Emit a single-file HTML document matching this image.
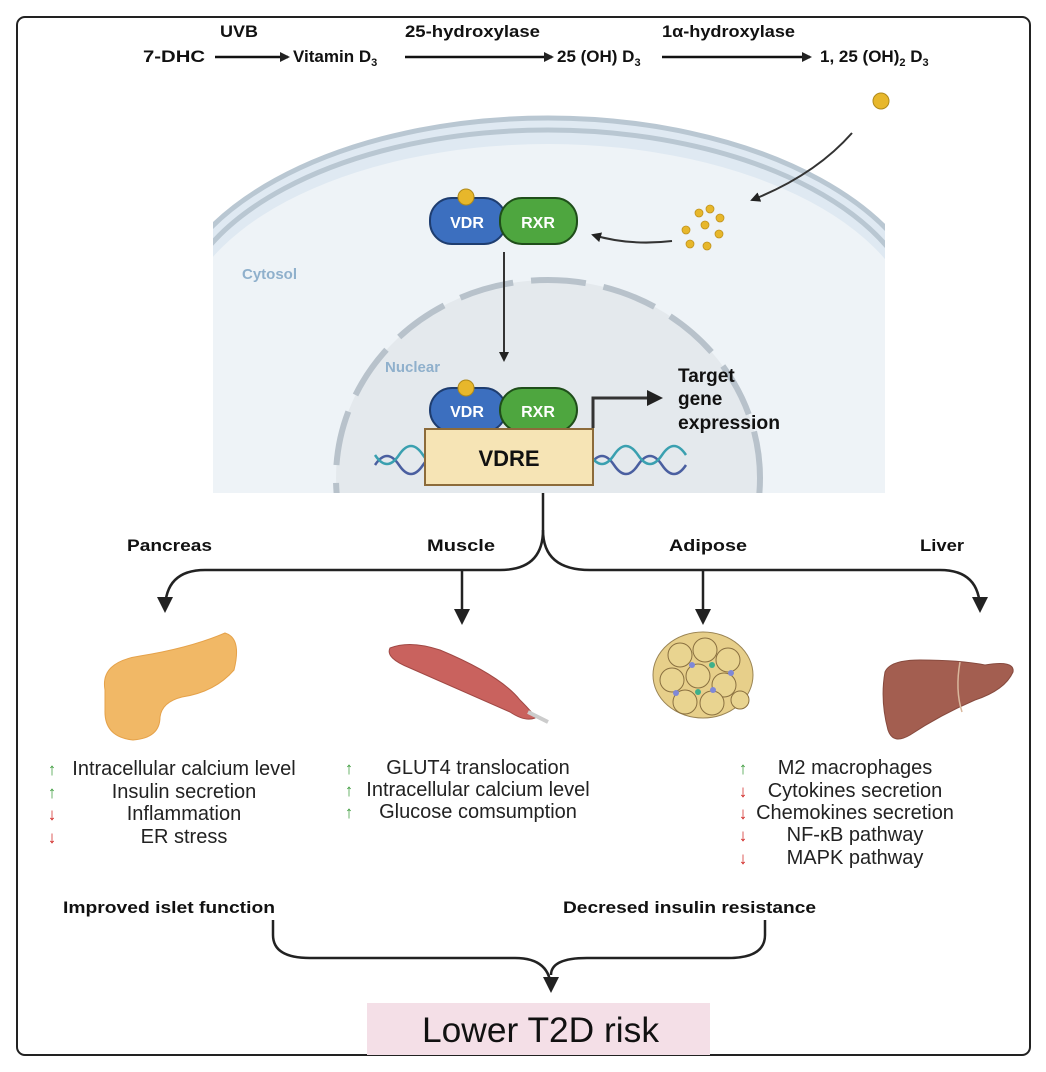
<!DOCTYPE html>
<html><head><meta charset="utf-8"><style>
body{margin:0;background:#fff}
svg{display:block;font-family:"Liberation Sans",sans-serif}
</style></head><body>
<svg width="1046" height="1072" viewBox="0 0 1046 1072">
<defs>
<marker id="ah" markerWidth="10" markerHeight="10" refX="8" refY="5" orient="auto" markerUnits="userSpaceOnUse"><path d="M0,0 L10,5 L0,10 z" fill="#222"/></marker>
<marker id="ah2" markerWidth="16" markerHeight="16" refX="13" refY="8" orient="auto" markerUnits="userSpaceOnUse"><path d="M0,0 L16,8 L0,16 z" fill="#222"/></marker>
<clipPath id="cell"><rect x="213" y="95" width="672" height="398"/></clipPath>
</defs>
<rect x="17" y="17" width="1013" height="1038" rx="8" fill="#fff" stroke="#222" stroke-width="2"/>
<!-- cell -->
<g clip-path="url(#cell)">
<rect x="213" y="95" width="672" height="398" fill="#fff"/>
<ellipse cx="548" cy="330" rx="385" ry="212" fill="#dfe9f2"/>
<ellipse cx="548" cy="330" rx="385" ry="212" fill="none" stroke="#b9c7d2" stroke-width="5"/>
<ellipse cx="548" cy="330" rx="373" ry="200" fill="none" stroke="#b9c7d2" stroke-width="5"/>
<ellipse cx="548" cy="340" rx="370" ry="196" fill="#eef3f7"/>
<rect x="213" y="400" width="672" height="100" fill="#eef3f7"/>
<ellipse cx="548" cy="478" rx="212" ry="198" fill="#e4e9ed" stroke="#b8c2cb" stroke-width="6" stroke-dasharray="55,18"/>
</g>
<!-- top pathway -->
<g font-weight="bold" fill="#111" font-size="17">
<text x="143" y="62" textLength="62" lengthAdjust="spacingAndGlyphs">7-DHC</text>
<text x="220" y="37" textLength="38" lengthAdjust="spacingAndGlyphs">UVB</text>
<text x="293" y="62">Vitamin D<tspan font-size="11" dy="4">3</tspan></text>
<text x="405" y="37" textLength="135" lengthAdjust="spacingAndGlyphs">25-hydroxylase</text>
<text x="557" y="62">25 (OH) D<tspan font-size="11" dy="4">3</tspan></text>
<text x="662" y="37" textLength="133" lengthAdjust="spacingAndGlyphs">1α-hydroxylase</text>
<text x="820" y="62">1, 25 (OH)<tspan font-size="11" dy="4">2</tspan><tspan dy="-4"> D</tspan><tspan font-size="11" dy="4">3</tspan></text>
</g>
<g stroke="#111" stroke-width="2.5" fill="none">
<line x1="215" y1="57" x2="288" y2="57" marker-end="url(#ah)"/>
<line x1="405" y1="57" x2="552" y2="57" marker-end="url(#ah)"/>
<line x1="662" y1="57" x2="810" y2="57" marker-end="url(#ah)"/>
</g>
<circle cx="881" cy="101" r="8" fill="#e7b72b" stroke="#b08a1a"/>
<text x="242" y="279" font-size="15" font-weight="bold" fill="#8fb0cc">Cytosol</text>
<text x="385" y="372" font-size="15" font-weight="bold" fill="#8fb0cc">Nuclear</text>
<!-- incoming arrow -->
<path d="M852,133 Q815,175 752,200" stroke="#333" stroke-width="2" fill="none" marker-end="url(#ah)"/>
<g fill="#e7b72b" stroke="#c0921c" stroke-width="0.8">
<circle cx="699" cy="213" r="4"/><circle cx="710" cy="209" r="4"/><circle cx="720" cy="218" r="4"/><circle cx="686" cy="230" r="4"/><circle cx="705" cy="225" r="4"/><circle cx="719" cy="234" r="4"/><circle cx="690" cy="244" r="4"/><circle cx="707" cy="246" r="4"/>
</g>
<path d="M672,241 Q630,246 593,235" stroke="#333" stroke-width="2" fill="none" marker-end="url(#ah)"/>
<!-- top dimer -->
<rect x="430" y="198" width="76" height="46" rx="22" fill="#3c6fbf" stroke="#1e3d70" stroke-width="2"/>
<rect x="500" y="198" width="77" height="46" rx="22" fill="#4ea63f" stroke="#1f4e1a" stroke-width="2"/>
<circle cx="466" cy="197" r="8" fill="#e7b72b" stroke="#b08a1a"/>
<text x="467" y="228" font-size="16" font-weight="bold" fill="#fff" text-anchor="middle">VDR</text>
<text x="538" y="228" font-size="16" font-weight="bold" fill="#fff" text-anchor="middle">RXR</text>
<line x1="504" y1="252" x2="504" y2="360" stroke="#333" stroke-width="2" marker-end="url(#ah)"/>
<!-- DNA -->
<g stroke-width="2.5" fill="none">
<path d="M375,465 q12,-18 24,0 t24,0 t24,0" stroke="#4a5fa0"/>
<path d="M375,455 q12,18 24,0 t24,0 t24,0" stroke="#3aa0b0"/>
<path d="M590,465 q12,-18 24,0 t24,0 t24,0 t24,0" stroke="#4a5fa0"/>
<path d="M590,455 q12,18 24,0 t24,0 t24,0 t24,0" stroke="#3aa0b0"/>
</g>
<rect x="430" y="388" width="76" height="44" rx="22" fill="#3c6fbf" stroke="#1e3d70" stroke-width="2"/>
<rect x="500" y="388" width="77" height="44" rx="22" fill="#4ea63f" stroke="#1f4e1a" stroke-width="2"/>
<circle cx="466" cy="388" r="8" fill="#e7b72b" stroke="#b08a1a"/>
<text x="467" y="417" font-size="16" font-weight="bold" fill="#fff" text-anchor="middle">VDR</text>
<text x="538" y="417" font-size="16" font-weight="bold" fill="#fff" text-anchor="middle">RXR</text>
<rect x="425" y="429" width="168" height="56" fill="#f6e4b5" stroke="#8c6b3a" stroke-width="2"/>
<text x="509" y="466" font-size="22" font-weight="bold" fill="#111" text-anchor="middle">VDRE</text>
<path d="M593,428 V398 H660" stroke="#333" stroke-width="3" fill="none" marker-end="url(#ah2)"/>
<text font-size="19" font-weight="bold" fill="#111"><tspan x="678" y="382">Target</tspan><tspan x="678" y="405">gene</tspan><tspan x="678" y="429" textLength="102" lengthAdjust="spacingAndGlyphs">expression</tspan></text>
<!-- branching -->
<g stroke="#222" stroke-width="2.5" fill="none">
<path d="M543,493 V530 Q543,570 500,570 H205 Q165,570 165,610" marker-end="url(#ah2)"/>
<path d="M543,530 Q543,570 590,570 H940 Q980,570 980,610" marker-end="url(#ah2)"/>
<line x1="462" y1="570" x2="462" y2="622" marker-end="url(#ah2)"/>
<line x1="703" y1="570" x2="703" y2="622" marker-end="url(#ah2)"/>
</g>
<g font-size="17" font-weight="bold" fill="#111">
<text x="127" y="551" textLength="85" lengthAdjust="spacingAndGlyphs">Pancreas</text>
<text x="427" y="551" textLength="68" lengthAdjust="spacingAndGlyphs">Muscle</text>
<text x="669" y="551" textLength="78" lengthAdjust="spacingAndGlyphs">Adipose</text>
<text x="920" y="551" textLength="44" lengthAdjust="spacingAndGlyphs">Liver</text>
</g>
<!-- pancreas -->
<path d="M105,690 Q100,662 140,656 Q190,648 225,633 Q242,638 234,670 Q215,692 182,697 Q162,702 160,717 Q160,738 133,740 Q104,737 105,710 z" fill="#f1b866" stroke="#e5a24a"/>
<!-- muscle -->
<path d="M390,648 Q410,640 440,650 Q500,675 520,700 Q535,715 535,718 Q525,722 510,712 Q460,690 410,668 Q385,658 390,648 z" fill="#c9625e" stroke="#a04844"/>
<path d="M528,712 L548,722" stroke="#ccc" stroke-width="4"/>
<!-- adipose -->
<ellipse cx="703" cy="675" rx="50" ry="43" fill="#e7cf8a" stroke="#9a8454"/>
<g fill="#e9d490" stroke="#8a7040" stroke-width="1">
<circle cx="680" cy="655" r="12"/><circle cx="705" cy="650" r="12"/><circle cx="728" cy="660" r="12"/><circle cx="672" cy="680" r="12"/><circle cx="698" cy="676" r="12"/><circle cx="724" cy="685" r="12"/><circle cx="685" cy="702" r="12"/><circle cx="712" cy="703" r="12"/><circle cx="740" cy="700" r="9"/>
</g>
<g fill="#7f88d8"><circle cx="692" cy="665" r="3"/><circle cx="713" cy="690" r="3"/><circle cx="676" cy="693" r="3"/><circle cx="731" cy="673" r="3"/></g>
<g fill="#3fb08a"><circle cx="712" cy="665" r="3"/><circle cx="698" cy="692" r="3"/></g>
<!-- liver -->
<path d="M885,672 Q890,660 920,660 Q960,660 985,665 Q1015,660 1013,672 Q1005,690 975,700 Q940,715 910,735 Q893,745 888,730 Q880,700 885,672 z" fill="#a35e50" stroke="#874a3e"/>
<path d="M960,662 Q955,690 962,712" stroke="#d9b79c" stroke-width="1.5" fill="none"/>
<!-- lists -->
<g font-size="20" fill="#222" text-anchor="middle">
<text x="184" y="775">Intracellular calcium level</text>
<text x="184" y="798">Insulin secretion</text>
<text x="184" y="820">Inflammation</text>
<text x="184" y="843">ER stress</text>
<text x="478" y="774">GLUT4 translocation</text>
<text x="478" y="796">Intracellular calcium level</text>
<text x="478" y="818">Glucose comsumption</text>
<text x="855" y="774">M2 macrophages</text>
<text x="855" y="797">Cytokines secretion</text>
<text x="855" y="819">Chemokines secretion</text>
<text x="855" y="841">NF-κB pathway</text>
<text x="855" y="864">MAPK pathway</text>
</g>
<g font-size="17" font-weight="bold" text-anchor="middle">
<text x="52" y="775" fill="#3a9a3a">↑</text><text x="52" y="798" fill="#3a9a3a">↑</text>
<text x="52" y="820" fill="#d0221f">↓</text><text x="52" y="843" fill="#d0221f">↓</text>
<text x="349" y="774" fill="#3a9a3a">↑</text><text x="349" y="796" fill="#3a9a3a">↑</text><text x="349" y="818" fill="#3a9a3a">↑</text>
<text x="743" y="774" fill="#3a9a3a">↑</text><text x="743" y="797" fill="#d0221f">↓</text><text x="743" y="819" fill="#d0221f">↓</text><text x="743" y="841" fill="#d0221f">↓</text><text x="743" y="864" fill="#d0221f">↓</text>
</g>
<g font-size="17" font-weight="bold" fill="#111">
<text x="63" y="913" textLength="212" lengthAdjust="spacingAndGlyphs">Improved islet function</text>
<text x="563" y="913" textLength="253" lengthAdjust="spacingAndGlyphs">Decresed insulin resistance</text>
</g>
<g stroke="#222" stroke-width="2.5" fill="none">
<path d="M273,920 V935 Q273,958 310,958 H515 Q551,958 551,990" marker-end="url(#ah2)"/>
<path d="M765,920 V935 Q765,958 728,958 H587 Q551,958 551,975"/>
</g>
<rect x="367" y="1003" width="343" height="52" fill="#f4dfe7"/>
<text x="422" y="1042" font-size="35" fill="#111" textLength="237" lengthAdjust="spacingAndGlyphs">Lower T2D risk</text>
</svg>
</body></html>
